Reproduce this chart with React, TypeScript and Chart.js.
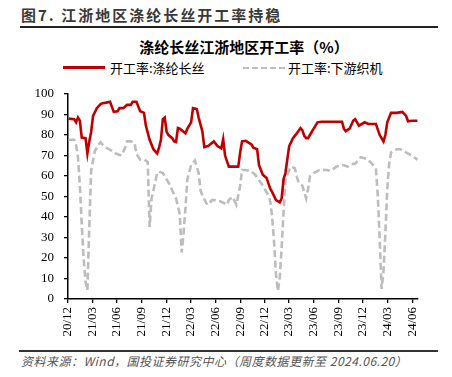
import React, { useEffect, useRef } from "react";
import { Chart, registerables } from "chart.js";

Chart.register(...registerables);

// Quarter tick labels (YY/MM)
const tickLabels = ["20/12", "21/03", "21/06", "21/09", "21/12", "22/03", "22/06", "22/09", "22/12", "23/03", "23/06", "23/09", "23/12", "24/03", "24/06"];

// Weekly observations: week number counted from 2020-12-03
const polyesterWeeks = [0, 3, 4, 5, 6, 7, 9, 10, 11, 12, 13, 15, 17, 18, 20, 22, 24, 26, 27, 29, 31, 33, 34, 36, 38, 40, 41, 43, 45, 47, 48, 49, 50, 51, 52, 53, 55, 56, 57, 58, 59, 61, 62, 63, 65, 66, 68, 69, 71, 72, 74, 77, 79, 81, 82, 83, 85, 87, 90, 91, 92, 94, 97, 98, 100, 101, 103, 105, 107, 108, 110, 112, 113, 114, 115, 117, 119, 121, 123, 124, 125, 126, 127, 129, 130, 132, 134, 138, 145, 146, 147, 149, 151, 152, 154, 157, 159, 163, 165, 167, 168, 169, 171, 174, 177, 179, 180, 182, 185];
const polyesterRate = [87.9, 87.6, 86.1, 88.4, 86.9, 78.7, 78.4, 70.9, 76.8, 81.5, 89.2, 93, 95, 95.4, 95.7, 96.1, 91.2, 91.5, 93, 93, 94.6, 94.6, 96.1, 96.1, 91.5, 90.7, 84.5, 77.6, 73, 70.9, 73.7, 77.6, 87.6, 88.4, 81.5, 79.9, 78.4, 76.8, 76.5, 83.3, 83, 81.5, 80.7, 83, 86.1, 93, 92.6, 88.4, 81.5, 74, 74.5, 76.8, 74.5, 73.4, 77.9, 69.9, 64.5, 64.5, 64.5, 71.4, 76.8, 77.1, 75.3, 73.7, 73, 65.2, 60.6, 59, 53.6, 52.1, 48.2, 47.1, 49, 58.3, 61.4, 74.5, 78.4, 80.7, 83.3, 82.2, 79.5, 78.4, 78.4, 81.5, 83, 86.1, 86.4, 86.4, 86.4, 83, 81.8, 83, 86.9, 87.6, 84.5, 86.1, 85.3, 85.3, 79.9, 76.8, 79.9, 86.1, 90.7, 90.7, 91.2, 89.2, 86.6, 86.9, 86.9];

const loomWeeks = [0, 3, 4, 5, 6, 7, 8, 9, 10, 11, 12, 14, 16, 17, 18, 20, 23, 25, 28, 30, 31, 33, 35, 36, 38, 40, 42, 43, 44, 45, 47, 48, 50, 52, 54, 55, 57, 59, 60, 61, 62, 63, 65, 67, 69, 70, 71, 73, 74, 76, 78, 81, 84, 85, 87, 89, 91, 92, 94, 97, 99, 100, 102, 104, 106, 107, 108, 109, 110, 111, 112, 113, 114, 115, 117, 118, 120, 121, 122, 124, 125, 126, 127, 128, 130, 133, 137, 139, 142, 144, 146, 148, 150, 152, 155, 158, 160, 163, 164, 165, 166, 167, 168, 169, 170, 171, 174, 176, 179, 182, 185];
const loomRate = [77.6, 77.6, 75.3, 69.1, 55.2, 36.6, 19.6, 8.8, 4.2, 35, 62.9, 72.2, 75.3, 76.4, 75.3, 73.7, 72.2, 70.9, 69.9, 73.7, 76.8, 76.8, 76, 70.6, 67.9, 67.9, 66.8, 35.1, 49, 52.9, 61.4, 62.1, 61.4, 58.3, 55.2, 52.9, 49, 41.3, 22.7, 32, 44.4, 58.3, 65.2, 67.5, 61.4, 52.9, 50.5, 46.7, 45.9, 48.2, 48.2, 47.4, 45.9, 48.2, 49.8, 45.9, 55.2, 62.9, 62.9, 62.1, 60.6, 59, 56.7, 53.6, 50.5, 47.4, 39.7, 27.4, 12, 3.9, 10.4, 25, 42, 58.3, 62.9, 64.5, 63.7, 59.8, 56.7, 55.2, 52, 49, 53.6, 59.8, 61.4, 62.9, 62.9, 62.4, 64.5, 65.2, 65.2, 64.5, 65.7, 66, 69.1, 68.3, 66.8, 63.7, 50, 28.9, 4.9, 13.4, 32, 53.6, 66, 71.4, 73, 73, 71.4, 69.9, 67.9];

const seriesNames = ["开工率:涤纶长丝", "开工率:下游织机"];
const yMin = 0;
const yMax = 100;
const yStep = 10;
const xEndWeek = 185.3;

const DAY = 86400000;
const weekOf = (lbl: string) => {
  const [yy, mm] = lbl.split("/").map(Number);
  return (Date.UTC(2000 + yy, mm - 1, 1) - Date.UTC(2020, 11, 3)) / (7 * DAY);
};
const tickWeeks = tickLabels.map(weekOf);

const RED = "#C00000";
const GRAY = "#BDBDBD";
const SERIF = '"Liberation Serif", "Times New Roman", serif';
const CJK = '"Noto Sans CJK SC", "Noto Sans", sans-serif';

export default function App() {
  const ref = useRef<HTMLCanvasElement>(null);

  useEffect(() => {
    const toPts = (w: number[], v: number[]) => w.map((x, i) => ({ x, y: v[i] }));
    const chart = new Chart(ref.current!, {
      type: "line",
      data: {
        datasets: [
          {
            label: seriesNames[0],
            data: toPts(polyesterWeeks, polyesterRate),
            borderColor: RED,
            backgroundColor: RED,
            borderWidth: 2.6,
            pointRadius: 0,
            tension: 0,
          },
          {
            label: seriesNames[1],
            data: toPts(loomWeeks, loomRate),
            borderColor: GRAY,
            backgroundColor: GRAY,
            borderWidth: 2.6,
            borderDash: [7, 3.5],
            pointRadius: 0,
            tension: 0,
          },
        ],
      },
      options: {
        responsive: false,
        animation: false,
        events: [],
        layout: { padding: { left: 0, right: 34, top: 8, bottom: 0 } },
        plugins: {
          legend: { display: false },
          title: { display: false },
          tooltip: { enabled: false },
        },
        scales: {
          x: {
            type: "linear",
            min: tickWeeks[0],
            max: xEndWeek,
            offset: false,
            afterBuildTicks: (scale: any) => {
              scale.ticks = tickWeeks.map((v) => ({ value: v }));
            },
            afterFit: (scale: any) => {
              scale.height = 49;
            },
            grid: {
              display: true,
              drawOnChartArea: false,
              drawTicks: true,
              tickLength: 4,
              color: "#000",
              lineWidth: 1.3,
            },
            border: { display: true, color: "#000", width: 1.5 },
            ticks: {
              autoSkip: false,
              maxRotation: 90,
              minRotation: 90,
              padding: 4,
              color: "#000",
              font: { family: SERIF, size: 13 },
              callback: (_v: any, i: number) => tickLabels[i],
            },
          },
          y: {
            min: yMin,
            max: yMax,
            afterFit: (scale: any) => {
              scale.width = 68;
            },
            grid: {
              display: true,
              drawOnChartArea: false,
              drawTicks: true,
              tickLength: 4,
              color: "#000",
              lineWidth: 1.3,
            },
            border: { display: true, color: "#000", width: 1.5 },
            ticks: {
              stepSize: yStep,
              padding: 10,
              color: "#000",
              font: { family: SERIF, size: 13 },
            },
          },
        },
      },
    } as any);
    return () => chart.destroy();
  }, []);

  return (
    <div
      style={{
        position: "fixed",
        left: 0,
        top: 0,
        width: 452,
        height: 377,
        background: "#fff",
        overflow: "hidden",
      }}
    >
      <div
        style={{
          position: "absolute",
          left: 21,
          top: 5,
          fontFamily: CJK,
          fontWeight: 700,
          fontSize: 15,
          letterSpacing: 2,
          lineHeight: "20px",
          color: "#3a3a3a",
          whiteSpace: "nowrap",
        }}
      >
        图7. 江浙地区涤纶长丝开工率持稳
      </div>
      <div style={{ position: "absolute", left: 20, top: 26, width: 418, height: 2, background: "#222" }} />

      <div
        style={{
          position: "absolute",
          left: 244,
          top: 37,
          transform: "translateX(-50%)",
          fontFamily: CJK,
          fontWeight: 700,
          fontSize: 15,
          lineHeight: "20px",
          color: "#000",
          whiteSpace: "nowrap",
        }}
      >
        涤纶长丝江浙地区开工率（%）
      </div>

      <div style={{ position: "absolute", left: 63, top: 66.4, width: 42, height: 2.6, background: RED }} />
      <div
        style={{
          position: "absolute",
          left: 110,
          top: 59,
          fontFamily: CJK,
          fontSize: 13,
          lineHeight: "17px",
          color: "#000",
          whiteSpace: "nowrap",
        }}
      >
        {seriesNames[0]}
      </div>
      <svg style={{ position: "absolute", left: 243, top: 64 }} width={43} height={8}>
        <line x1={0} y1={4} x2={42} y2={4} stroke={GRAY} strokeWidth={2.2} strokeDasharray="6 3" />
      </svg>
      <div
        style={{
          position: "absolute",
          left: 288,
          top: 59,
          fontFamily: CJK,
          fontSize: 13,
          lineHeight: "17px",
          color: "#000",
          whiteSpace: "nowrap",
        }}
      >
        {seriesNames[1]}
      </div>

      <canvas ref={ref} width={452} height={272} style={{ position: "absolute", left: 0, top: 76, width: 452, height: 272 }} />

      <div style={{ position: "absolute", left: 19, top: 350, width: 419, height: 1.5, background: "#333" }} />
      <div
        style={{
          position: "absolute",
          left: 21,
          top: 353,
          fontFamily: CJK,
          fontStyle: "italic",
          fontSize: 12,
          letterSpacing: 0.5,
          lineHeight: "16px",
          color: "#555",
          whiteSpace: "nowrap",
        }}
      >
        资料来源：Wind，国投证券研究中心（周度数据更新至 2024.06.20）
      </div>
    </div>
  );
}
